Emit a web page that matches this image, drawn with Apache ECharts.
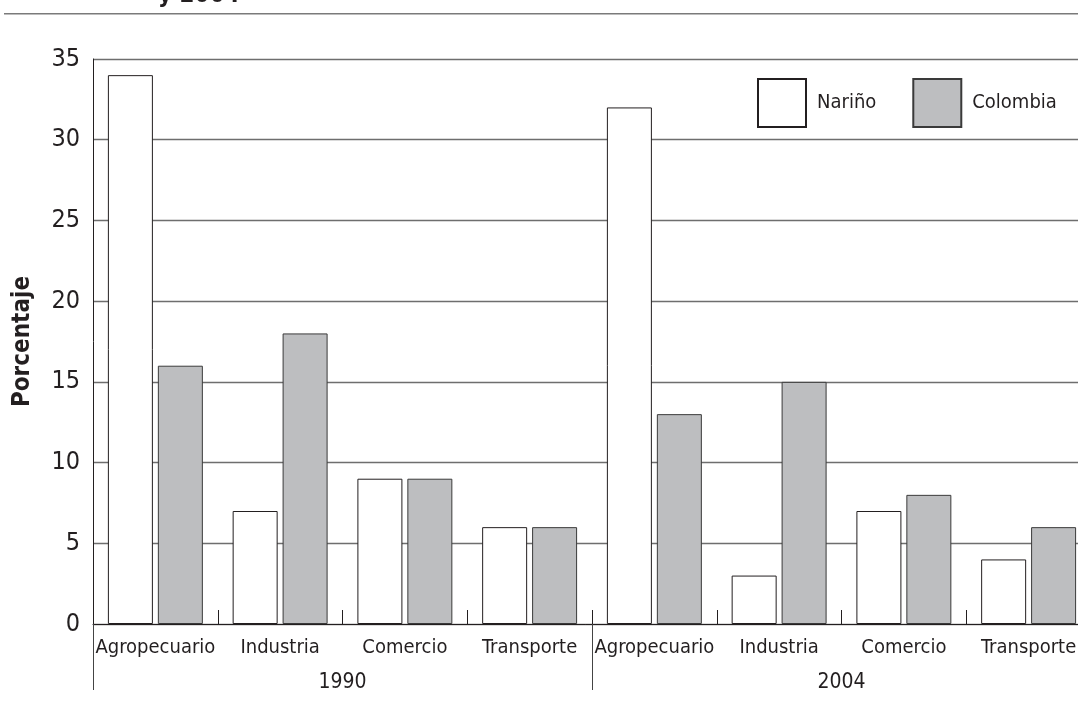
<!DOCTYPE html>
<html><head><meta charset="utf-8">
<script src="https://cdn.jsdelivr.net/npm/echarts@6/dist/echarts.min.js"></script>
<style>html,body{margin:0;padding:0;background:#fff}#c{width:1078px;height:725px}</style>
</head><body><div id="c"></div>
<script>
const sectors = ['Agropecuario','Industria','Comercio','Transporte','Agropecuario','Industria','Comercio','Transporte'];
const years = ['1990','2004'];
const narino = [34, 7, 9, 6, 32, 3, 7, 4];
const colombia = [16, 18, 9, 6, 13, 15, 8, 6];
const yTicks = {min: 0, max: 35, interval: 5};
const FONT = '"DejaVu Sans Condensed", "Liberation Sans", sans-serif';

const chart = echarts.init(document.getElementById('c'));
chart.setOption({
  animation: false,
  backgroundColor: '#fff',
  textStyle: {fontFamily: FONT, color: '#231f20'},
  graphic: [
    {type: 'rect', shape: {x: 4, y: 13, width: 1074, height: 1.5}, style: {fill: '#7a7a7a'}},
    {type: 'text', x: 158, y: -16, style: {text: 'y 2004', font: 'bold 24px ' + FONT, fill: '#231f20'}}
  ],
  grid: {left: 93, right: -13, top: 59, bottom: 101, containLabel: false, outerBoundsMode: 'none'},
  legend: {
    left: 752, top: 73, itemWidth: 48, itemHeight: 48, itemGap: 36,
    icon: 'rect', orient: 'horizontal',
    textStyle: {fontSize: 20, fontFamily: FONT, color: '#231f20', padding: [0, 0, 0, 6]},
    data: ['Nariño', 'Colombia']
  },
  xAxis: [
    {
      type: 'category', data: sectors, position: 'bottom',
      axisLine: {show: true, lineStyle: {color: '#231f20', width: 1}},
      axisTick: {show: true, inside: true, length: 14, lineStyle: {color: '#231f20'}},
      axisLabel: {interval: 0, fontSize: 20, margin: 14, color: '#231f20', fontFamily: FONT},
      splitLine: {show: false}
    },
    {
      type: 'category', data: years, position: 'bottom',
      axisLine: {show: false},
      axisTick: {show: true, inside: false, length: 66, lineStyle: {color: '#444'}},
      axisLabel: {interval: 0, fontSize: 21, margin: 48, color: '#231f20', fontFamily: FONT},
      splitLine: {show: false}
    }
  ],
  yAxis: {
    type: 'value', min: yTicks.min, max: yTicks.max, interval: yTicks.interval,
    name: 'Porcentaje', nameLocation: 'middle', nameGap: 58, nameRotate: 90,
    nameTextStyle: {fontSize: 24, fontWeight: 'bold', color: '#231f20', fontFamily: FONT},
    axisLine: {show: true, lineStyle: {color: '#231f20', width: 1}},
    axisTick: {show: false},
    axisLabel: {fontSize: 25, margin: 13, color: '#231f20', fontFamily: FONT},
    splitLine: {show: true, lineStyle: {color: '#6e6e6e', width: 1.3}}
  },
  series: [
    {name: 'Nariño', type: 'bar', data: narino, barWidth: 45, barGap: '11%',
     itemStyle: {color: '#ffffff', borderColor: '#231f20', borderWidth: 1}},
    {name: 'Colombia', type: 'bar', data: colombia, barWidth: 45, barGap: '11%',
     itemStyle: {color: '#bdbec0', borderColor: '#3a3a3a', borderWidth: 1}}
  ]
});
</script></body></html>
